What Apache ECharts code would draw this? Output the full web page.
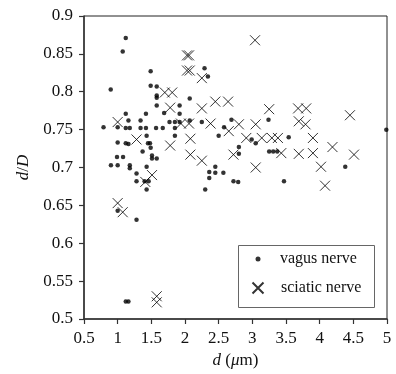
<!DOCTYPE html>
<html><head><meta charset="utf-8">
<script src="https://cdn.jsdelivr.net/npm/echarts@6/dist/echarts.min.js"></script>
<style>html,body{margin:0;padding:0;background:#fff}#c{width:396px;height:374px}</style>
</head><body><div id="c"></div>
<script>
const xTicks = [0.5, 5, 0.5];   // min, max, interval
const yTicks = [0.5, 0.9, 0.05];
const vagusName = 'vagus nerve';
const sciaticName = 'sciatic nerve';
const vagus = [
[1.12,0.871],[1.075,0.853],[0.897,0.803],[1.49,0.827],[1.49,0.808],[1.58,0.807],[1.58,0.795],[1.58,0.792],[1.58,0.782],
[1.12,0.771],[1.16,0.762],[1.34,0.762],[1.42,0.771],[1.69,0.772],[0.79,0.753],[1.0,0.753],[1.12,0.752],[1.18,0.752],[1.34,0.752],[1.42,0.752],
[1.0,0.733],[1.12,0.732],[1.16,0.731],[1.43,0.742],[1.45,0.732],[1.48,0.732],[1.37,0.721],[1.49,0.726],[1.51,0.716],[1.51,0.712],[1.58,0.712],
[0.99,0.714],[1.08,0.714],[0.9,0.703],[1.0,0.703],[1.18,0.703],[1.18,0.699],[1.28,0.692],[1.43,0.701],
[1.57,0.752],[1.67,0.752],[1.77,0.76],[1.85,0.76],[1.85,0.752],[1.85,0.742],[1.92,0.782],[1.92,0.771],[1.92,0.76],
[2.07,0.791],[2.07,0.762],[2.29,0.831],[2.34,0.82],[2.25,0.76],[2.58,0.753],[2.5,0.742],
[2.45,0.701],[2.36,0.694],[2.45,0.693],[2.57,0.693],[2.36,0.686],[2.30,0.671],
[1.28,0.682],[1.40,0.682],[1.46,0.682],[1.43,0.671],[1.0,0.643],[1.28,0.631],[1.12,0.523],[1.16,0.523],
[2.69,0.763],[3.24,0.763],[2.99,0.737],[3.05,0.732],[3.54,0.74],[2.80,0.727],[2.80,0.718],
[3.25,0.721],[3.31,0.721],[3.37,0.721],[4.99,0.75],[4.38,0.701],[2.72,0.682],[2.79,0.681],[3.47,0.682]
];
const sciatic = [
[1.0,0.76],[1.28,0.737],[1.51,0.69],[1.70,0.799],[1.81,0.799],[1.78,0.779],[1.78,0.729],[1.94,0.758],[2.06,0.758],
[2.03,0.848],[2.06,0.848],[2.03,0.828],[2.07,0.828],[2.08,0.738],[2.08,0.717],[2.25,0.818],[2.25,0.778],[2.25,0.709],
[2.38,0.758],[2.45,0.787],[2.64,0.787],[1.0,0.653],[1.075,0.641],[1.41,0.681],[1.58,0.530],[1.58,0.522],
[3.04,0.868],[3.25,0.777],[3.68,0.778],[3.80,0.778],[4.45,0.769],[3.69,0.761],[3.79,0.757],[2.80,0.757],[2.65,0.748],
[3.05,0.757],[2.91,0.739],[3.14,0.739],[3.29,0.739],[3.38,0.739],[3.90,0.739],[4.19,0.727],[2.72,0.717],[3.43,0.719],
[3.69,0.718],[3.90,0.719],[4.51,0.717],[3.05,0.70],[4.02,0.701],[4.08,0.676]
];

const FONT = '"Liberation Serif", "DejaVu Serif", serif';
const chart = echarts.init(document.getElementById('c'), null, {renderer:'canvas'});
const crossPath = 'path://M0,0L10,10M10,0L0,10';
const axisCommon = {
  axisLine:{show:true, lineStyle:{color:'#333', width:1.5}},
  axisTick:{show:true, inside:false, length:5, lineStyle:{color:'#333', width:1.2}},
  splitLine:{show:false},
  axisLabel:{color:'#111', fontFamily:FONT, fontSize:17, margin:11},
  nameTextStyle:{color:'#111', fontFamily:FONT, fontSize:17,
    rich:{i:{fontStyle:'italic', fontFamily:FONT, fontSize:17, color:'#111'}, n:{fontFamily:FONT, fontSize:17, color:'#111'}}}
};
chart.setOption({
  animation:false,
  backgroundColor:'#fff',
  grid:{left:84, right:9, top:16, bottom:55, show:true, borderColor:'#222', borderWidth:1, containLabel:false},
  xAxis:Object.assign({}, axisCommon, {type:'value', min:xTicks[0], max:xTicks[1], interval:xTicks[2],
    name:'{i|d}{n| (}{i|μ}{n|m)}', nameLocation:'middle', nameGap:29}),
  yAxis:Object.assign({}, axisCommon, {type:'value', min:yTicks[0], max:yTicks[1], interval:yTicks[2],
    name:'{i|d}{n|/}{i|D}', nameLocation:'middle', nameGap:50}),
  legend:[
    {data:[vagusName], orient:'vertical', left:255.5, top:251, padding:0, itemWidth:5, itemHeight:5,
     textStyle:{fontFamily:FONT, fontSize:16, color:'#111', lineHeight:16, padding:[0,0,0,14.5]}},
    {data:[sciaticName], orient:'vertical', left:251.5, top:280, padding:0, itemWidth:11, itemHeight:11,
     textStyle:{fontFamily:FONT, fontSize:16, color:'#111', lineHeight:16, padding:[0,0,0,12.5]}}
  ],
  graphic:[{type:'rect', left:236, top:243, shape:{width:136, height:62}, style:{fill:'none', stroke:'#666', lineWidth:1}, z:100}],
  series:[
    {name:vagusName, type:'scatter', data:vagus, symbol:'circle', symbolSize:4.5, itemStyle:{color:'#000'}},
    {name:sciaticName, type:'scatter', data:sciatic, symbol:crossPath, symbolSize:10,
     itemStyle:{color:'rgba(0,0,0,0)', borderColor:'#000', borderWidth:1}}
  ]
});
</script></body></html>
